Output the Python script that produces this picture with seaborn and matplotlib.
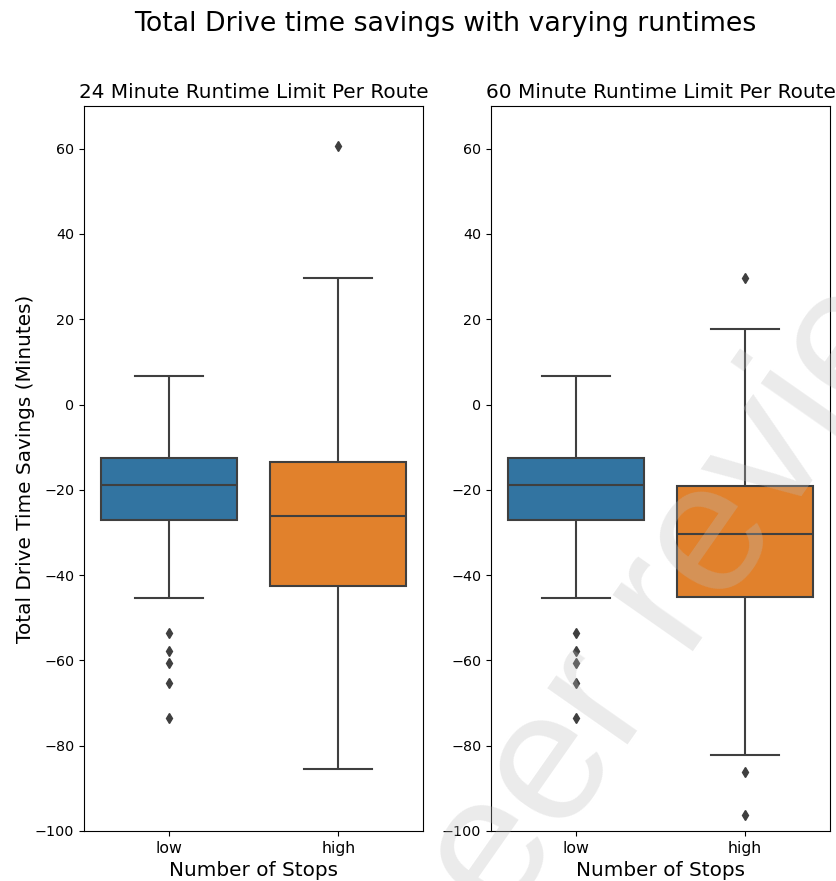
import numpy as np
import pandas as pd
import matplotlib
matplotlib.use("Agg")
import matplotlib.pyplot as plt
import seaborn as sns

# ---------------------------------------------------------------------------
# Data (drive time savings in minutes, per route)
# ---------------------------------------------------------------------------
STOP_LEVELS = ["low", "high"]

# low-stop routes are the same in both runtime scenarios
low_savings = [-73.6, -65.2, -60.6, -57.7, -53.6, -45.3, -27.1, -25.9, -24.2,
               -22.8, -21.5, -20.1, -18.8, -17.6, -16.3, -15.4, -14.2, -13.1,
               -12.5, -10.8, -8.4, -5.9, -2.7, 1.9, 6.8]
high_savings_24 = [-85.5, -61.0, -48.3, -42.5, -37.0, -30.4, -26.2, -22.1,
                   -17.9, -13.5, -4.2, 29.6, 60.5]
high_savings_60 = [-96.2, -86.1, -82.1, -45.2, -40.1, -35.6, -30.3, -26.8,
                   -22.5, -19.2, -6.3, 17.8, 29.6]

PANEL_TITLES = ["24 Minute Runtime Limit Per Route", "60 Minute Runtime Limit Per Route"]
SUPTITLE = "Total Drive time savings with varying runtimes"
YLABEL = "Total Drive Time Savings (Minutes)"
XLABEL = "Number of Stops"
WATERMARK = "peer review"

PALETTE = ["#1f77b4", "#ff7f0e"]
LINE_GRAY = "#3f3f3f"


def make_frame(low, high):
    return pd.DataFrame({
        "stops": ["low"] * len(low) + ["high"] * len(high),
        "savings": list(low) + list(high),
    })


def draw_panel(ax, df, title):
    sns.boxplot(
        data=df, x="stops", y="savings", hue="stops",
        order=STOP_LEVELS, hue_order=STOP_LEVELS,
        palette=PALETTE, saturation=0.75, width=0.8,
        linewidth=1.5, linecolor=LINE_GRAY, legend=False,
        flierprops=dict(marker="d", markersize=5,
                        markerfacecolor=LINE_GRAY, markeredgecolor=LINE_GRAY),
        ax=ax,
    )
    ax.set_ylim(-100, 70)
    ax.set_yticks(np.arange(-100, 61, 20))
    ax.tick_params(axis="y", labelsize=10.3)
    ax.tick_params(axis="x", labelsize=11.3)
    ax.set_title(title, fontsize=14.4)
    ax.set_xlabel(XLABEL, fontsize=14.4, labelpad=4)
    ax.set_ylabel("")


fig = plt.figure(figsize=(8.36, 8.81), dpi=100)
ax1 = fig.add_axes([0.1005, 0.0568, 0.4055, 0.8229])
ax2 = fig.add_axes([0.5873, 0.0568, 0.4055, 0.8229])

draw_panel(ax1, make_frame(low_savings, high_savings_24), PANEL_TITLES[0])
draw_panel(ax2, make_frame(low_savings, high_savings_60), PANEL_TITLES[1])
ax1.set_ylabel(YLABEL, fontsize=14.4, labelpad=0)

fig.suptitle(SUPTITLE, fontsize=19.3, x=0.532, y=0.973, va="center")

# faint watermark laid over the figure
fig.text(0.860, 0.302, WATERMARK, fontsize=134, rotation=55,
         rotation_mode="anchor", ha="center", va="baseline",
         family="Liberation Sans", color="#bcbcbc", alpha=0.3, zorder=10)

fig.savefig("out.png", dpi=100)
